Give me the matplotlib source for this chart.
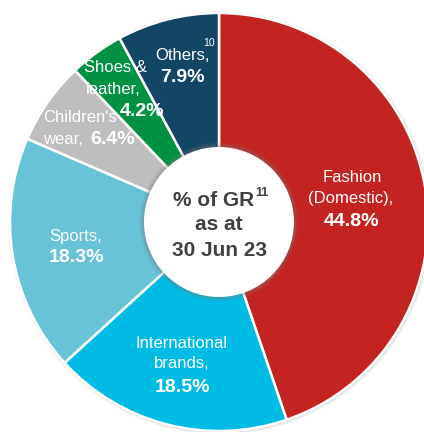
import matplotlib
matplotlib.use("Agg")
import matplotlib.pyplot as plt
from matplotlib.patches import Circle

# ---- data ----
categories = ["Fashion (Domestic)", "International brands", "Sports",
              "Children's wear", "Shoes & leather", "Others"]
values = [44.8, 18.5, 18.3, 6.4, 4.2, 7.9]
colors = ["#C32421", "#00BCE4", "#68C2D8", "#BEBEBE", "#009142", "#134565"]
pct_labels = ["44.8%", "18.5%", "18.3%", "6.4%", "4.2%", "7.9%"]

W, H = 424, 432
fig = plt.figure(figsize=(W / 100, H / 100), dpi=100)
ax = fig.add_axes([0, 0, 1, 1])
FONT = "Liberation Sans"

cx, cy_px = 219, 222
R = 209
r_in = 75
cy = H - cy_px

# faint outer shadow
for i, a in enumerate([0.05, 0.08, 0.12]):
    ax.add_patch(Circle((cx + 1, cy - 1), R + 3 - i, color="#808080", alpha=a, zorder=0, lw=0))

ax.pie(values, colors=colors, startangle=90, counterclock=False,
       center=(cx, cy), radius=R,
       wedgeprops=dict(edgecolor="white", linewidth=1.8), frame=True)

# inner hole with soft shadow
for i, a in enumerate([0.06, 0.09, 0.12, 0.16]):
    ax.add_patch(Circle((cx, cy), r_in + 5 - i, color="#7a7a7a", alpha=a, zorder=3, lw=0))
ax.add_patch(Circle((cx, cy), r_in, color="white", zorder=4, lw=0))

ax.set_xlim(0, W)
ax.set_ylim(0, H)
ax.set_aspect("auto")
ax.axis("off")


def t(x, y, s, size=12, weight="normal", color="white", ha="center", va="center"):
    ax.text(x, H - y, s, fontsize=size, fontweight=weight, color=color,
            ha=ha, va=va, family=FONT, zorder=6)


# Fashion
t(352, 178, "Fashion")
t(351, 199, "(Domestic),")
t(351, 221, pct_labels[0], size=14, weight="bold")
# International
t(182, 343, "International")
t(182, 364, "brands,")
t(182, 387, pct_labels[1], size=14, weight="bold")
# Sports
t(76, 236, "Sports,")
t(77, 258, pct_labels[2], size=14, weight="bold")
# Children's wear
t(43, 117, "Children's", ha="left")
t(43, 139, "wear,", ha="left")
t(90, 139, pct_labels[3], size=14, weight="bold", ha="left")
# Shoes & leather
t(115, 68, "Shoes &")
t(113, 89, "leather,")
t(142, 112, pct_labels[4], size=14, weight="bold")
# Others
t(182, 55, "Others,")
t(209, 43, "10", size=7.5)
t(182, 78, pct_labels[5], size=14, weight="bold")

# centre text
dark = "#404040"
t(214, 200, "% of GR", size=15, weight="bold", color=dark)
t(255, 193, "11", size=9, weight="bold", color=dark, ha="left")
t(219, 225, "as at", size=15, weight="bold", color=dark)
t(219, 250, "30 Jun 23", size=15, weight="bold", color=dark)

fig.savefig("out.png", dpi=100, facecolor="white")
